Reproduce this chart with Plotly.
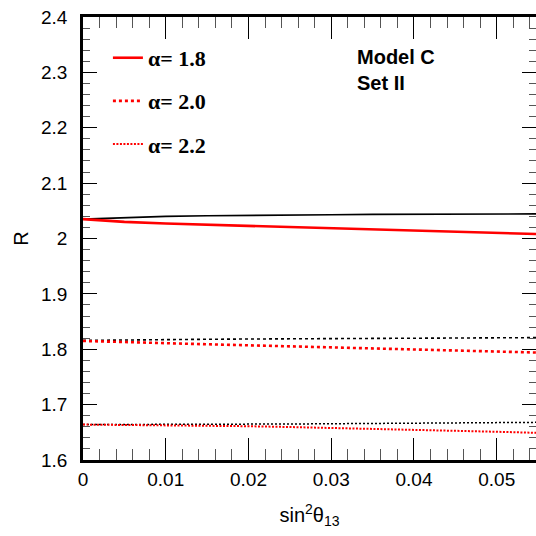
import plotly.graph_objects as go

x_vals = [0, 0.005, 0.01, 0.015, 0.02, 0.025, 0.03, 0.035, 0.04, 0.045, 0.05, 0.055]

black_18 = [2.035, 2.038, 2.040, 2.041, 2.042, 2.0425, 2.043, 2.0435, 2.044, 2.044, 2.0445, 2.0445]
red_18 = [2.035, 2.030, 2.027, 2.025, 2.0225, 2.020, 2.018, 2.016, 2.014, 2.012, 2.010, 2.008]

black_20 = [1.816, 1.817, 1.8175, 1.818, 1.8185, 1.819, 1.819, 1.8195, 1.820, 1.8205, 1.821, 1.821]
red_20 = [1.815, 1.8125, 1.811, 1.809, 1.807, 1.805, 1.803, 1.801, 1.799, 1.797, 1.7955, 1.794]

black_22 = [1.664, 1.664, 1.664, 1.6645, 1.665, 1.665, 1.6655, 1.666, 1.6665, 1.667, 1.6675, 1.668]
red_22 = [1.664, 1.6635, 1.663, 1.662, 1.661, 1.6595, 1.658, 1.6565, 1.655, 1.653, 1.651, 1.649]

legend_names = ["α= 1.8", "α= 2.0", "α= 2.2"]

fig = go.Figure()

# black reference curves (not in legend)
fig.add_trace(go.Scatter(x=x_vals, y=black_18, mode="lines", line=dict(color="black", width=1.6),
                         showlegend=False))
fig.add_trace(go.Scatter(x=x_vals, y=black_20, mode="lines", line=dict(color="black", width=1.6, dash="3px,3px"),
                         showlegend=False))
fig.add_trace(go.Scatter(x=x_vals, y=black_22, mode="lines", line=dict(color="black", width=1.5, dash="2px,2px"),
                         showlegend=False))

# red curves
fig.add_trace(go.Scatter(x=x_vals, y=red_18, mode="lines", name=legend_names[0], legendgroup="a",
                         line=dict(color="red", width=2.6)))
fig.add_trace(go.Scatter(x=x_vals, y=red_20, mode="lines", name=legend_names[1], legendgroup="b",
                         line=dict(color="red", width=2.6, dash="3px,3px")))
fig.add_trace(go.Scatter(x=x_vals, y=red_22, mode="lines", name=legend_names[2], legendgroup="c",
                         line=dict(color="red", width=2, dash="2px,1.5px")))

# invisible trace to carry the right-side y axis ticks
fig.add_trace(go.Scatter(x=[x_vals[0]], y=[black_18[0]], yaxis="y2", mode="lines",
                         line=dict(width=0), showlegend=False, hoverinfo="skip"))

sans = "Liberation Sans, Arial, sans-serif"
tick_font = dict(family=sans, size=19, color="black")

fig.update_layout(
    width=536, height=536,
    margin=dict(l=83, r=0, t=17, b=76),
    plot_bgcolor="white", paper_bgcolor="white",
    showlegend=True,
    legend=dict(x=0.055, y=0.955, xanchor="left", yanchor="top",
                font=dict(family="Liberation Serif, Times New Roman, serif", size=22, color="black", weight="bold"),
                tracegroupgap=11.5, bgcolor="rgba(0,0,0,0)"),
    xaxis=dict(range=[0, 0.05475], dtick=0.01, tick0=0, showgrid=False, zeroline=False,
               showline=True, linecolor="black", linewidth=2.5, mirror="ticks",
               ticks="inside", ticklen=22, tickwidth=1.2, tickcolor="black",
               minor=dict(dtick=0.002, ticklen=11, tickwidth=1, tickcolor="#555", ticks="inside"),
               tickfont=tick_font, ticklabelstandoff=0,
               tickformat="~g",
               title=dict(text="sin<sup>2</sup>θ<sub>13</sub>", font=dict(family=sans, size=20, color="black"), standoff=20)),
    yaxis=dict(range=[1.6, 2.4], dtick=0.1, tick0=1.6, showgrid=False, zeroline=False,
               showline=True, linecolor="black", linewidth=2.5, mirror=False,
               ticks="inside", ticklen=14, tickwidth=1.2, tickcolor="black",
               minor=dict(dtick=0.02, ticklen=7, tickwidth=1, tickcolor="#555", ticks="inside"),
               tickfont=tick_font, ticklabelstandoff=9, tickformat="~g",
               title=dict(text="R", font=dict(family=sans, size=20, color="black"), standoff=8)),
    yaxis2=dict(range=[1.6, 2.4], dtick=0.1, tick0=1.6, overlaying="y", side="right",
                showgrid=False, zeroline=False, showline=False, showticklabels=False,
                ticks="inside", ticklen=14, tickwidth=1.2, tickcolor="black",
                minor=dict(dtick=0.02, ticklen=7, tickwidth=1, tickcolor="#555", ticks="inside")),
    annotations=[dict(text="<b>Model C<br>Set II</b>", xref="paper", yref="paper",
                      x=(355 - 83) / 453, y=(536 - 76 - 44) / 443, xanchor="left", yanchor="top",
                      align="left", showarrow=False,
                      font=dict(family=sans, size=20, color="black"))],
)

fig.write_html("out.html")
